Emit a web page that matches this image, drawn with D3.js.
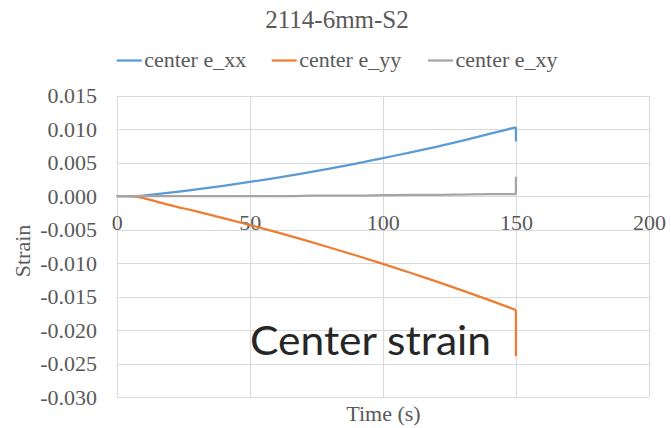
<!DOCTYPE html>
<html>
<head>
<meta charset="utf-8">
<script src="https://cdn.jsdelivr.net/npm/d3@7"></script>
<style>
  html, body { margin: 0; padding: 0; background: #fff; }
  svg { display: block; }
</style>
</head>
<body>
<svg id="chart" width="671" height="428"></svg>
<script>
// Sample times (s) and the three strain components at the specimen centre
const time = [0, 5, 10, 15, 20, 25, 30, 40, 50, 60, 70, 80, 90, 100, 110, 120, 130, 140, 150, 150];
const exx  = [0, 0, 0.00008, 0.0003, 0.00053, 0.00077, 0.00102, 0.00155, 0.00213, 0.00275, 0.00342, 0.00412, 0.00487, 0.0057, 0.0065, 0.00737, 0.0083, 0.0093, 0.0103, 0.0082];
const eyy  = [0, 0, -0.0003, -0.0008, -0.00134, -0.0018, -0.00228, -0.00327, -0.0043, -0.00538, -0.00649, -0.00766, -0.00886, -0.0101, -0.0114, -0.01273, -0.01411, -0.01553, -0.0170, -0.0239];
const exy  = [0, 0, 0, 0, 0, 0, 0, 0, 0, 0, 0.00005, 0.0001, 0.0001, 0.00015, 0.0002, 0.0002, 0.00025, 0.0003, 0.0003, 0.0029];

const seriesNames = ["center e_xx", "center e_yy", "center e_xy"];
const seriesColors = ["#5B9BD5", "#ED7D31", "#A5A5A5"];
const xTicks = [0, 50, 100, 150, 200];
const yTicks = [0.015, 0.010, 0.005, 0.000, -0.005, -0.010, -0.015, -0.020, -0.025, -0.030];

const series = [exx, eyy, exy].map((vals, i) => ({
  name: seriesNames[i],
  color: seriesColors[i],
  points: vals.map((v, j) => [time[j], v])
}));

const svg = d3.select("#chart");
const textColor = "#595959";
const SERIF = '"Liberation Serif"';

const x = d3.scaleLinear().domain([0, 200]).range([116.7, 649]);
const y = d3.scaleLinear().domain([-0.030, 0.015]).range([397, 95.8]);

// Gridlines
const grid = svg.append("g").attr("stroke", "#D9D9D9").attr("stroke-width", 1);
grid.selectAll("line.h").data(yTicks).join("line")
  .attr("x1", x(0)).attr("x2", x(200))
  .attr("y1", d => Math.round(y(d)) + 0.5).attr("y2", d => Math.round(y(d)) + 0.5);
grid.selectAll("line.v").data(xTicks).join("line")
  .attr("y1", y(0.015)).attr("y2", y(-0.030))
  .attr("x1", d => Math.round(x(d)) + 0.5).attr("x2", d => Math.round(x(d)) + 0.5);

// Y axis labels
const fmt = d3.format(".3f");
const yAxis = d3.axisLeft(y).tickValues(yTicks).tickFormat(fmt).tickSize(0).tickPadding(0);
const yg = svg.append("g").attr("transform", `translate(${97},0)`).call(yAxis);
yg.select(".domain").remove();
yg.selectAll("text")
  .attr("x", 0)
  .style("font-family", SERIF).style("font-size", "22px").attr("fill", textColor)
  .text(d => fmt(d).replace("\u2212", "-"));

// X axis labels sit just under the zero line
const xAxis = d3.axisBottom(x).tickValues(xTicks).tickFormat(d3.format("d")).tickSize(0).tickPadding(0);
const xg = svg.append("g").attr("transform", `translate(0,${y(0)})`).call(xAxis);
xg.select(".domain").remove();
xg.selectAll("text")
  .attr("y", 0).attr("dy", 0)
  .attr("transform", "translate(0,34)")
  .style("font-family", SERIF).style("font-size", "22px").attr("fill", textColor);

// Series lines: smooth rise up to the end time, then the straight drop
const smooth = d3.line().x(d => x(d[0])).y(d => y(d[1])).curve(d3.curveMonotoneX);
const straight = d3.line().x(d => x(d[0])).y(d => y(d[1]));
const lines = svg.append("g").selectAll("g").data(series).join("g")
  .attr("fill", "none")
  .attr("stroke", d => d.color)
  .attr("stroke-width", 2.25)
  .attr("stroke-linejoin", "round");
lines.append("path").attr("d", d => smooth(d.points.slice(0, -1)));
lines.append("path").attr("d", d => straight(d.points.slice(-2)));

// Title
svg.append("text")
  .attr("x", 337).attr("y", 28)
  .attr("text-anchor", "middle")
  .style("font-family", SERIF).style("font-size", "25px").attr("fill", textColor)
  .text("2114-6mm-S2");

// Legend
const legendX = [116.7, 271.7, 428];
const leg = svg.append("g").selectAll("g").data(series).join("g")
  .attr("transform", (d, i) => `translate(${legendX[i]},0)`);
leg.append("line")
  .attr("x1", 0).attr("x2", 25).attr("y1", 60.5).attr("y2", 60.5)
  .attr("stroke", d => d.color).attr("stroke-width", 2.25);
leg.append("text")
  .attr("x", 27.5).attr("y", 67)
  .style("font-family", SERIF).style("font-size", "22px").attr("fill", textColor)
  .text(d => d.name);

// Axis titles
svg.append("text")
  .attr("x", 383.5).attr("y", 421)
  .attr("text-anchor", "middle")
  .style("font-family", SERIF).style("font-size", "22px").attr("fill", textColor)
  .text("Time (s)");
svg.append("text")
  .attr("transform", "translate(30,251) rotate(-90)")
  .attr("text-anchor", "middle")
  .style("font-family", SERIF).style("font-size", "22px").attr("fill", textColor)
  .text("Strain");

// Annotation
svg.append("text")
  .attr("x", 250).attr("y", 355)
  .style("font-family", '"Lato"').style("font-size", "41.5px")
  .attr("fill", "#262626")
  .attr("textLength", 241).attr("lengthAdjust", "spacingAndGlyphs")
  .text("Center strain");
</script>
</body>
</html>
